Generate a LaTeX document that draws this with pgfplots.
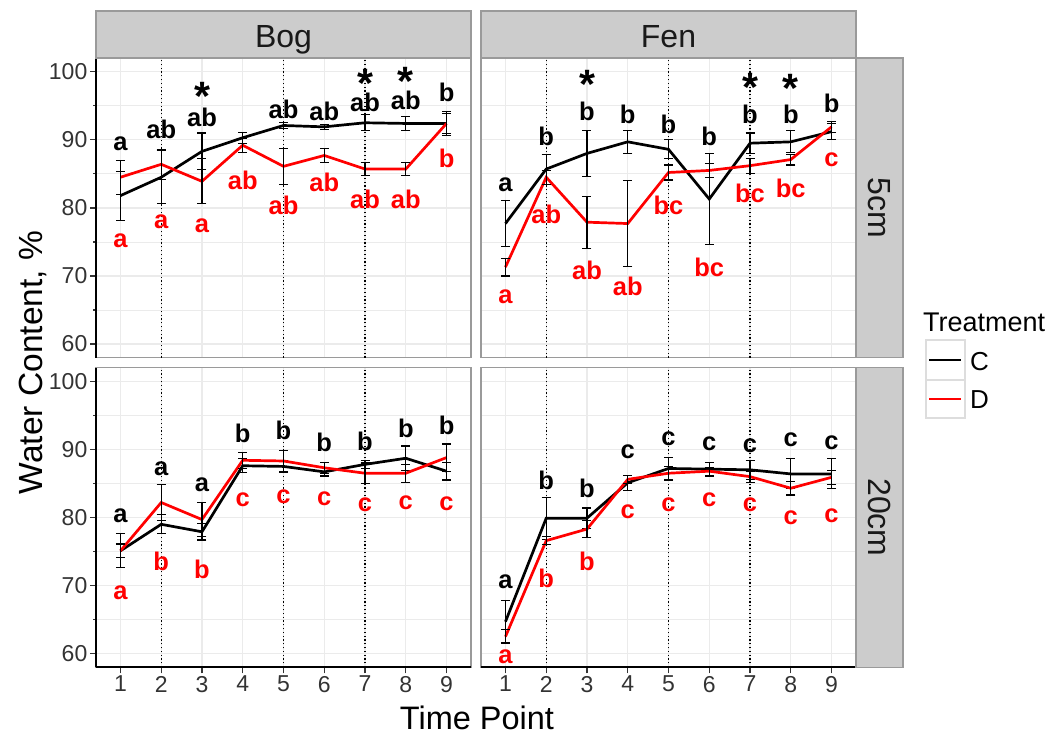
\documentclass[border=0pt]{standalone}
\usepackage{fontspec}
\setmainfont{Liberation Sans}
\usepackage{pgfplots}
\pgfplotsset{compat=1.18}
\usepackage{pgfplotstable}

\definecolor{gridc}{HTML}{EBEBEB}
\definecolor{stripc}{HTML}{CCCCCC}
\definecolor{borderc}{HTML}{9A9A9A}
\definecolor{tickc}{HTML}{333333}
\definecolor{keyb}{HTML}{DDDDDD}

\newcommand\labfont{\fontsize{25.5bp}{25bp}\selectfont\bfseries}
\newcommand\starfont{\fontsize{41bp}{40bp}\selectfont\bfseries}
\newcommand\tickfont{\fontsize{23bp}{26bp}\selectfont}
\newcommand\xtitlefont{\fontsize{32.5bp}{34bp}\selectfont}
\newcommand\ytitlefont{\fontsize{33.5bp}{34bp}\selectfont}
\newcommand\stripfont{\fontsize{32bp}{34bp}\selectfont}
\newcommand\legtitlefont{\fontsize{27bp}{28bp}\selectfont}
\newcommand\legfont{\fontsize{26bp}{28bp}\selectfont}

% panel data: x, mean C, err C, mean D, err D
\pgfplotstableread{
x C Ce D De
1 81.8 3.6 84.5 2.5
2 84.5 3.9 86.4 2.2
3 88.3 2.7 83.9 3.3
4 90.3 0.8 89.2 1.0
5 92.1 0.5 86.1 2.6
6 91.9 0.4 87.7 1.0
7 92.5 1.2 85.7 1.0
8 92.4 1.0 85.7 0.9
9 92.4 1.8 92.4 1.5
}\bogfive
\pgfplotstableread{
x C Ce D De
1 77.7 3.4 71.3 1.3
2 85.7 2.2 84.5 1.0
3 88.0 3.4 77.9 3.8
4 89.7 1.7 77.7 6.3
5 88.6 1.4 85.2 1.1
6 81.3 6.7 85.5 1.0
7 89.5 1.5 86.2 1.1
8 89.7 1.6 87.1 0.8
9 91.2 1.2 91.9 0.8
}\fenfive
\pgfplotstableread{
x C Ce D De
1 75.1 2.5 75.1 1.0
2 79.0 1.4 82.2 2.7
3 77.9 1.2 79.7 2.5
4 87.6 1.0 88.4 1.2
5 87.5 0.9 88.3 1.6
6 86.7 0.6 87.3 0.8
7 87.8 0.6 86.5 1.5
8 88.7 1.8 86.5 1.3
9 86.8 1.3 88.8 2.0
}\bogtwenty
\pgfplotstableread{
x C Ce D De
1 64.7 3.1 62.5 1.0
2 79.9 3.1 76.6 0.6
3 79.9 1.5 78.3 1.3
4 85.1 1.1 85.6 0.6
5 87.2 1.6 86.5 1.0
6 87.1 1.0 86.8 0.6
7 87.0 1.4 86.0 0.8
8 86.4 2.2 84.3 1.0
9 86.4 2.2 85.9 1.0
}\fentwenty

% letter labels
\pgfplotstableread{
x y l
1 89.4 a
2 91.6 ab
3 93.3 ab
5 94.5 ab
6 94.1 ab
7 95.5 ab
8 95.8 ab
9 97.0 b
}\bogfiveCl
\pgfplotstableread{
x y l
1 75.1 a
2 77.9 a
3 77.4 a
4 84.0 ab
5 80.4 ab
6 83.7 ab
7 81.3 ab
8 81.2 ab
9 87.3 b
}\bogfiveDl
\pgfplotstableread{
x y l
3 98.5 *
7 100.4 *
8 100.7 *
}\bogfiveS
\pgfplotstableread{
x y l
1 83.4 a
2 90.5 b
3 94.2 b
4 93.8 b
5 92.3 b
6 90.5 b
7 93.8 b
8 93.8 b
9 95.3 b
}\fenfiveCl
\pgfplotstableread{
x y l
1 66.9 a
2 79.1 ab
3 70.8 ab
4 68.4 ab
5 80.4 bc
6 71.3 bc
7 82.1 bc
8 82.8 bc
9 87.0 c
}\fenfiveDl
\pgfplotstableread{
x y l
3 100.2 *
7 99.8 *
8 99.7 *
}\fenfiveS
\pgfplotstableread{
x y l
1 80.2 a
2 87.2 a
3 84.8 a
4 92.3 b
5 92.8 b
6 91.0 b
7 91.2 b
8 93.1 b
9 93.5 b
}\bogtwentyCl
\pgfplotstableread{
x y l
1 68.9 a
2 73.6 b
3 72.4 b
4 82.6 c
5 83.1 c
6 82.7 c
7 81.9 c
8 82.1 c
9 82.0 c
}\bogtwentyDl
\pgfplotstableread{
x y l
1 70.5 a
2 85.5 b
3 84.3 b
4 89.6 c
5 91.5 c
6 90.9 c
7 90.6 c
8 91.4 c
9 91.0 c
}\fentwentyCl
\pgfplotstableread{
x y l
1 59.6 a
2 71.0 b
3 73.6 b
4 80.9 c
5 81.9 c
6 82.6 c
7 81.9 c
8 80.0 c
9 80.2 c
}\fentwentyDl

\pgfplotsset{
 panel/.style={
  scale only axis, width=375bp, height=299.6bp, anchor=south west,
  xmin=0.4, xmax=9.6, ymin=58, ymax=102,
  xtick={1,...,9}, ytick={60,70,80,90,100}, minor ytick={65,75,85,95},
  grid=both,
  major grid style={gridc, line width=1.4bp},
  minor grid style={gridc, line width=0.7bp},
  axis line style={borderc, line width=1.3bp},
  tick align=outside, tick pos=left, major tick length=6bp,
  every tick/.style={tickc, line width=1.3bp},
  tick label style={font=\tickfont, text=black!80, inner sep=2.5bp},
  /pgf/number format/assume math mode=true,
  clip=false,
 },
 noxlab/.style={xticklabels={}, xtick style={draw=none}},
 noylab/.style={yticklabels={}, ytick style={draw=none}},
 leftblack/.style={after end axis/.append code={\draw[black, line width=1.6bp] (rel axis cs:0,0) -- (rel axis cs:0,1);}},
 botblack/.style={after end axis/.append code={\draw[black, line width=1.6bp] (rel axis cs:0,0) -- (rel axis cs:1,0);}},
 serC/.style={black, line width=2.7bp, error bars/.cd, y dir=both, y explicit, error mark=-,
   error bar style={black, line width=1.1bp}, error mark options={rotate=90, black, line width=1.1bp, mark size=4.5bp}},
 serD/.style={red, line width=2.7bp, error bars/.cd, y dir=both, y explicit, error mark=-,
   error bar style={black, line width=1.1bp}, error mark options={rotate=90, black, line width=1.1bp, mark size=4.5bp}},
 labC/.style={draw=none, mark=none, nodes near coords, point meta=explicit symbolic,
   every node near coord/.style={anchor=center, inner sep=0pt, font=\labfont, text=black}},
 labD/.style={draw=none, mark=none, nodes near coords, point meta=explicit symbolic,
   every node near coord/.style={anchor=center, inner sep=0pt, font=\labfont, text=red}},
 labS/.style={draw=none, mark=none, nodes near coords, point meta=explicit symbolic,
   every node near coord/.style={anchor=north, inner sep=0pt, font=\starfont, text=black}},
 vdot/.style={black, line width=1.2bp, dash pattern=on 1.2bp off 2.6bp},
}

\newcommand\refdots{%
  \addplot[vdot] coordinates {(2,58) (2,102)};
  \addplot[vdot] coordinates {(5,58) (5,102)};
  \addplot[vdot] coordinates {(7,58) (7,102)};
}

\begin{document}
\begin{tikzpicture}[x=1bp,y=1bp]
\useasboundingbox (0,0) rectangle (1051,735);

% Bog 5cm
\begin{axis}[panel, noxlab, leftblack, at={(96bp,377.3bp)}]
\refdots
\addplot[serC] table[x=x, y=C, y error=Ce] {\bogfive};
\addplot[serD] table[x=x, y=D, y error=De] {\bogfive};
\addplot[labC] table[x=x, y=y, meta=l] {\bogfiveCl};
\addplot[labD] table[x=x, y=y, meta=l] {\bogfiveDl};
\addplot[labS] table[x=x, y=y, meta=l] {\bogfiveS};
\end{axis}

% Fen 5cm
\begin{axis}[panel, noxlab, noylab, at={(481bp,377.3bp)}]
\refdots
\addplot[serC] table[x=x, y=C, y error=Ce] {\fenfive};
\addplot[serD] table[x=x, y=D, y error=De] {\fenfive};
\addplot[labC] table[x=x, y=y, meta=l] {\fenfiveCl};
\addplot[labD] table[x=x, y=y, meta=l] {\fenfiveDl};
\addplot[labS] table[x=x, y=y, meta=l] {\fenfiveS};
\end{axis}

% Bog 20cm
\begin{axis}[panel, leftblack, botblack, at={(96bp,67.7bp)}]
\refdots
\addplot[serC] table[x=x, y=C, y error=Ce] {\bogtwenty};
\addplot[serD] table[x=x, y=D, y error=De] {\bogtwenty};
\addplot[labC] table[x=x, y=y, meta=l] {\bogtwentyCl};
\addplot[labD] table[x=x, y=y, meta=l] {\bogtwentyDl};
\end{axis}

% Fen 20cm
\begin{axis}[panel, noylab, botblack, at={(481bp,67.7bp)}]
\refdots
\addplot[serC] table[x=x, y=C, y error=Ce] {\fentwenty};
\addplot[serD] table[x=x, y=D, y error=De] {\fentwenty};
\addplot[labC] table[x=x, y=y, meta=l] {\fentwentyCl};
\addplot[labD] table[x=x, y=y, meta=l] {\fentwentyDl};
\end{axis}

% strips
\draw[borderc, line width=1.3bp, fill=stripc] (96,677) rectangle (471,724);
\draw[borderc, line width=1.3bp, fill=stripc] (481,677) rectangle (856,724);
\node[font=\stripfont, text=black!90, anchor=base] at (283.5,687) {Bog};
\node[font=\stripfont, text=black!90, anchor=base] at (668.5,687) {Fen};
\draw[borderc, line width=1.3bp, fill=stripc] (856,377.3) rectangle (903,677);
\draw[borderc, line width=1.3bp, fill=stripc] (856,67.7) rectangle (903,367.3);
\node[font=\stripfont, text=black!90, rotate=-90, anchor=base] at (868,527.1) {5cm};
\node[font=\stripfont, text=black!90, rotate=-90, anchor=base] at (868,217.5) {20cm};

% axis titles
\node[font=\xtitlefont, anchor=base] at (477,5) {Time Point};
\node[font=\ytitlefont, anchor=base, rotate=90] at (42,372.5) {Water Content, \%};

% legend
\node[font=\legtitlefont, anchor=west, inner sep=0pt] at (923,413) {Treatment};
\draw[keyb, line width=1.3bp, fill=white] (926,355) rectangle (965,395);
\draw[keyb, line width=1.3bp, fill=white] (926,317) rectangle (965,355);
\draw[black, line width=2.8bp] (929,375) -- (961,375);
\draw[red, line width=2.8bp] (929,336) -- (961,336);
\node[font=\legfont, anchor=west, inner sep=0pt] at (970,373) {C};
\node[font=\legfont, anchor=west, inner sep=0pt] at (970,335) {D};
\end{tikzpicture}
\end{document}
